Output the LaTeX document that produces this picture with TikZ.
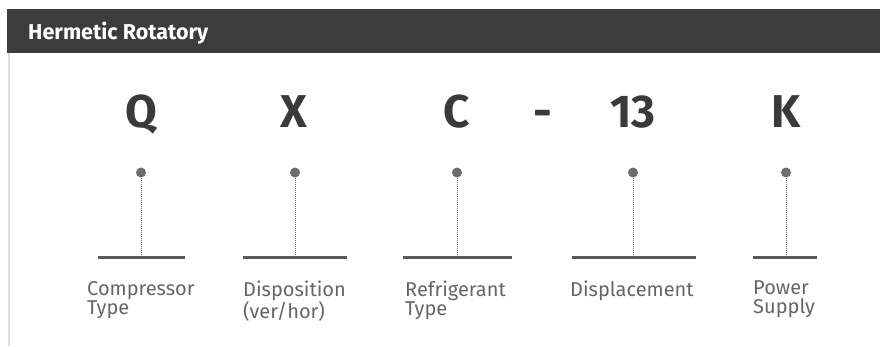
\documentclass[tikz,border=0pt]{standalone}
\usepackage{fontspec}
\setmainfont{Fira Sans}
\definecolor{headbg}{HTML}{3D3C3C}
\definecolor{bordergray}{HTML}{DDDDDD}
\definecolor{codegray}{HTML}{3A3A3A}
\definecolor{dotgray}{HTML}{6E6E6E}
\definecolor{bargray}{HTML}{5A5A5A}
\definecolor{labelgray}{HTML}{666666}
\begin{document}
\begin{tikzpicture}[x=1pt,y=-1pt,
  code/.style={anchor=base, inner sep=0pt, text=codegray, font=\bfseries\fontsize{46}{46}\selectfont},
  pin/.style={circle, fill=dotgray, minimum size=10pt, inner sep=0pt},
  bar/.style={draw=bargray, line width=3pt},
  stem/.style={draw=dotgray, line width=1pt, dash pattern=on 1pt off 1pt},
  lbl/.style={anchor=north west, inner sep=0pt, align=left, text=labelgray, font=\fontsize{20}{19}\selectfont}]
\useasboundingbox (0,0) rectangle (880,346);
\fill[headbg] (7,9) rectangle (880,53);
\draw[bordergray, line width=2pt] (9,53) -- (9,346);
\node[anchor=base west, inner sep=0pt, text=white, font=\bfseries\fontsize{21.5}{21.5}\selectfont] (title) at (28,39) {Hermetic Rotatory};
% code letters
\node[code] (cQ) at (141,127) {Q};
\node[code] (cX) at (294,127) {X};
\node[code] (cC) at (457,127) {C};
\node[code] (cD) at (543,127) {-};
\node[code] (c13) at (633,127) {13};
\node[code] (cK) at (786,127) {K};
% pins
\node[pin] (p1) at (141,172.5) {};
\node[pin] (p2) at (295,172.5) {};
\node[pin] (p3) at (457,172.5) {};
\node[pin] (p4) at (633,172.5) {};
\node[pin] (p5) at (786,172.5) {};
% bars
\coordinate (b1l) at (98,257);  \coordinate (b1r) at (185,257); \coordinate (b1m) at (141,257);
\coordinate (b2l) at (243,257); \coordinate (b2r) at (347,257); \coordinate (b2m) at (295,257);
\coordinate (b3l) at (403,257); \coordinate (b3r) at (512,257); \coordinate (b3m) at (457,257);
\coordinate (b4l) at (572,257); \coordinate (b4r) at (696,257); \coordinate (b4m) at (633,257);
\coordinate (b5l) at (753,257); \coordinate (b5r) at (817,257); \coordinate (b5m) at (786,257);
\foreach \i in {1,...,5}{
  \draw[stem] (p\i.south) -- (b\i m);
  \draw[bar] (b\i l) -- (b\i r);
}
% labels
\node[lbl] (l1) at (87,281) {Compressor\\Type};
\node[lbl] (l2) at (243,281) {Disposition\\(ver/hor)};
\node[lbl] (l3) at (405,281) {Refrigerant\\Type};
\node[lbl] (l4) at (570,281) {Displacement};
\node[lbl] (l5) at (753,281) {Power\\Supply};
\end{tikzpicture}
\end{document}
